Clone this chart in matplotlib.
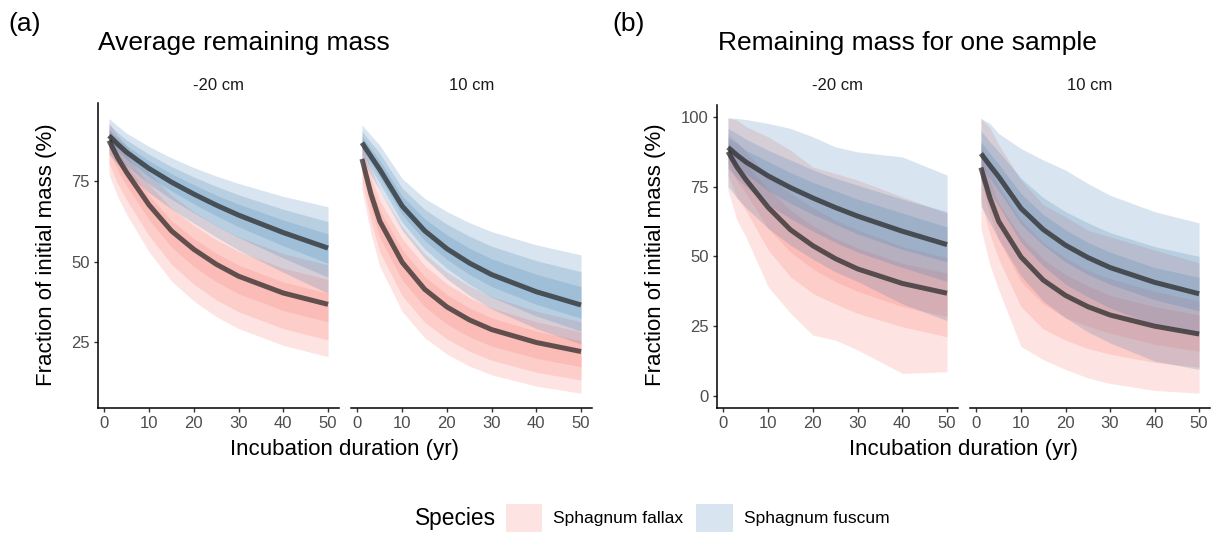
import matplotlib.pyplot as plt
from matplotlib.patches import Patch

plt.rcParams['font.family'] = ['Liberation Sans', 'DejaVu Sans']

years = [1, 3, 5, 10, 15, 20, 25, 30, 40, 50]
depths = ['-20 cm', '10 cm']
species = ['Sphagnum fallax', 'Sphagnum fuscum']

# ribbons are listed outer (95%) -> middle (80%) -> inner (50%)

# (a) average remaining mass, -20 cm
avg_m20_fallax_mean = [87.5, 82.0, 77.5, 67.5, 59.5, 53.8, 49.2, 45.5, 40.3, 36.8]
avg_m20_fallax_lo = [[77.0, 70.0, 64.5, 53.0, 44.0, 37.8, 33.0, 29.3, 24.1, 20.6],
                     [80.5, 74.0, 69.0, 58.0, 49.2, 43.0, 38.2, 34.5, 29.3, 25.8],
                     [84.2, 78.2, 73.4, 62.9, 54.5, 48.5, 43.8, 40.1, 34.9, 31.4]]
avg_m20_fallax_hi = [[93.0, 89.0, 85.7, 77.5, 70.5, 65.4, 61.2, 57.7, 52.5, 49.0],
                     [91.0, 86.5, 82.7, 73.8, 66.5, 61.2, 56.8, 53.2, 48.0, 44.5],
                     [89.2, 84.1, 79.9, 70.4, 62.7, 57.1, 52.6, 48.9, 43.7, 40.2]]
avg_m20_fuscum_mean = [89.0, 86.3, 83.8, 78.8, 74.6, 70.9, 67.5, 64.4, 59.0, 54.2]
avg_m20_fuscum_lo = [[83.2, 80.1, 77.3, 71.3, 66.3, 61.9, 57.6, 53.6, 46.7, 40.2],
                     [85.3, 82.3, 79.6, 74.0, 69.3, 65.1, 61.1, 57.5, 51.1, 45.2],
                     [87.0, 84.2, 81.6, 76.3, 71.9, 67.9, 64.2, 60.8, 54.9, 49.5]]
avg_m20_fuscum_hi = [[94.3, 91.9, 89.7, 85.6, 82.1, 79.1, 76.5, 74.2, 70.2, 67.0],
                     [92.4, 89.9, 87.6, 83.2, 79.4, 76.2, 73.3, 70.7, 66.2, 62.4],
                     [90.9, 88.3, 85.9, 81.2, 77.2, 73.8, 70.6, 67.8, 62.9, 58.6]]

# (a) average remaining mass, 10 cm
avg_10_fallax_mean = [81.8, 71.0, 62.5, 49.8, 41.5, 36.0, 32.0, 29.0, 25.0, 22.2]
avg_10_fallax_lo = [[72.2, 58.7, 48.5, 34.6, 26.5, 21.4, 17.7, 15.0, 11.5, 9.3],
                    [75.3, 62.6, 53.0, 39.5, 31.3, 26.1, 22.3, 19.5, 15.8, 13.4],
                    [78.3, 66.6, 57.5, 44.3, 36.1, 30.7, 26.8, 23.9, 20.1, 17.5]]
avg_10_fallax_hi = [[87.3, 79.0, 72.0, 60.8, 52.5, 46.8, 42.5, 39.2, 34.7, 31.4],
                    [85.4, 76.3, 68.8, 57.1, 48.8, 43.1, 38.9, 35.7, 31.4, 28.3],
                    [83.7, 73.8, 65.9, 53.7, 45.4, 39.8, 35.7, 32.6, 28.5, 25.6]]
avg_10_fuscum_mean = [86.8, 82.6, 78.5, 67.2, 59.6, 54.0, 49.6, 46.0, 40.7, 36.6]
avg_10_fuscum_lo = [[81.8, 76.8, 72.0, 59.7, 51.1, 44.7, 39.6, 35.4, 29.3, 24.5],
                    [83.5, 78.8, 74.2, 62.2, 54.0, 47.9, 43.0, 39.0, 33.2, 28.5],
                    [85.0, 80.5, 76.1, 64.5, 56.6, 50.7, 46.1, 42.3, 36.8, 32.5]]
avg_10_fuscum_hi = [[92.3, 89.1, 86.0, 75.7, 69.6, 65.5, 62.1, 59.3, 55.2, 52.1],
                    [90.4, 86.9, 83.5, 72.8, 66.2, 61.6, 57.9, 54.8, 50.3, 46.9],
                    [88.8, 85.0, 81.3, 70.3, 63.3, 58.3, 54.2, 50.9, 46.1, 42.3]]

# (b) remaining mass for one sample, -20 cm
one_m20_fallax_mean = avg_m20_fallax_mean
one_m20_fallax_lo = [[73.7, 63.0, 57.0, 39.1, 29.6, 21.8, 20.0, 16.5, 8.1, 8.7],
                     [79.0, 71.0, 66.5, 52.3, 42.7, 36.7, 33.0, 29.6, 24.8, 21.2],
                     [83.5, 77.0, 72.5, 60.0, 51.5, 45.5, 41.0, 37.5, 32.0, 28.5]]
one_m20_fallax_hi = [[99.6, 98.8, 96.5, 92.8, 88.0, 82.0, 79.7, 77.3, 71.3, 65.4],
                     [94.0, 91.0, 87.5, 79.0, 72.5, 67.5, 63.0, 59.5, 53.5, 49.5],
                     [91.0, 87.0, 83.0, 74.0, 66.5, 61.0, 56.5, 53.0, 47.5, 44.0]]
one_m20_fuscum_mean = avg_m20_fuscum_mean
one_m20_fuscum_lo = [[75.0, 71.0, 67.5, 60.0, 54.0, 49.0, 44.5, 41.0, 33.0, 27.0],
                     [81.5, 78.0, 75.0, 68.5, 63.5, 59.0, 55.0, 51.5, 46.0, 41.0],
                     [85.5, 82.0, 79.5, 73.5, 69.0, 65.0, 61.5, 58.0, 52.5, 48.0]]
one_m20_fuscum_hi = [[99.6, 99.4, 99.0, 97.6, 95.8, 92.8, 89.2, 87.4, 85.6, 79.1],
                     [95.8, 94.0, 92.0, 88.0, 84.5, 81.0, 78.0, 75.5, 70.5, 66.0],
                     [92.5, 90.5, 88.0, 84.0, 80.0, 76.5, 73.5, 70.5, 65.5, 60.5]]

# (b) remaining mass for one sample, 10 cm
one_10_fallax_mean = avg_10_fallax_mean
one_10_fallax_lo = [[60.0, 47.0, 38.0, 17.7, 13.0, 9.5, 6.5, 4.5, 2.0, 1.0],
                    [70.0, 58.0, 49.0, 32.0, 24.0, 20.0, 17.0, 15.0, 12.0, 10.3],
                    [77.0, 65.0, 56.0, 41.0, 33.0, 28.0, 25.0, 22.5, 18.5, 16.0]]
one_10_fallax_hi = [[99.4, 96.0, 90.0, 77.3, 68.5, 64.2, 59.4, 57.0, 52.3, 47.7],
                    [90.0, 82.0, 75.0, 63.0, 55.0, 49.5, 45.0, 42.0, 37.5, 34.0],
                    [86.0, 77.0, 69.0, 57.0, 49.0, 43.5, 39.5, 36.0, 32.0, 29.0]]
one_10_fuscum_mean = avg_10_fuscum_mean
one_10_fuscum_lo = [[68.0, 62.0, 56.0, 43.0, 34.0, 28.0, 23.0, 19.0, 12.5, 9.5],
                    [77.5, 72.5, 68.0, 55.0, 46.5, 40.0, 35.5, 31.5, 25.5, 21.5],
                    [82.5, 78.0, 73.5, 61.5, 54.0, 48.0, 43.5, 40.0, 34.5, 30.5]]
one_10_fuscum_hi = [[99.4, 97.6, 94.0, 88.6, 84.5, 80.9, 76.1, 71.9, 66.0, 62.0],
                    [95.0, 91.0, 87.5, 78.0, 71.0, 66.0, 62.0, 58.5, 53.5, 50.0],
                    [91.0, 87.0, 83.0, 72.5, 65.0, 59.5, 55.0, 51.5, 46.0, 42.5]]

FALLAX = '#F8766D'
FUSCUM = '#3C7BB0'
W, H = 1222, 533


def box(l, t, r, b):
    return [l / W, 1 - b / H, (r - l) / W, (b - t) / H]


def facet(ax, series, ylim, yticks, first):
    for lo, hi, mean, col in series:
        for l, h in zip(lo, hi):
            ax.fill_between(years, l, h, color=col, alpha=0.2, linewidth=0)
    for lo, hi, mean, col in series:
        ax.plot(years, mean, color='#262626', alpha=0.72, lw=3.6,
                solid_capstyle='butt', solid_joinstyle='round')
    ax.set_xlim(-1.45, 52.45)
    ax.set_ylim(*ylim)
    ax.set_xticks([0, 10, 20, 30, 40, 50])
    ax.set_yticks(yticks)
    ax.tick_params(labelsize=12, labelcolor='#4D4D4D', color='#333333',
                   length=3, width=1, pad=3)
    for s in ['top', 'right']:
        ax.spines[s].set_visible(False)
    for s in ['left', 'bottom']:
        ax.spines[s].set_linewidth(1.1)
    if not first:
        ax.spines['left'].set_visible(False)
        ax.tick_params(axis='y', left=False, labelleft=False)


fig = plt.figure(figsize=(W / 100, H / 100), dpi=100)

panels = [
    (box(98, 103, 339, 408), box(351, 103, 592, 408), (4.73, 99.1), [25, 50, 75],
     [(avg_m20_fallax_lo, avg_m20_fallax_hi, avg_m20_fallax_mean, FALLAX),
      (avg_m20_fuscum_lo, avg_m20_fuscum_hi, avg_m20_fuscum_mean, FUSCUM)],
     [(avg_10_fallax_lo, avg_10_fallax_hi, avg_10_fallax_mean, FALLAX),
      (avg_10_fuscum_lo, avg_10_fuscum_hi, avg_10_fuscum_mean, FUSCUM)]),
    (box(717, 105, 958, 408), box(970, 105, 1210, 408), (-4.3, 104.2), [0, 25, 50, 75, 100],
     [(one_m20_fallax_lo, one_m20_fallax_hi, one_m20_fallax_mean, FALLAX),
      (one_m20_fuscum_lo, one_m20_fuscum_hi, one_m20_fuscum_mean, FUSCUM)],
     [(one_10_fallax_lo, one_10_fallax_hi, one_10_fallax_mean, FALLAX),
      (one_10_fuscum_lo, one_10_fuscum_hi, one_10_fuscum_mean, FUSCUM)]),
]

for left_box, right_box, ylim, yticks, s_left, s_right in panels:
    for pos, ser, first, depth in [(left_box, s_left, True, depths[0]),
                                   (right_box, s_right, False, depths[1])]:
        ax = fig.add_axes(pos)
        facet(ax, ser, ylim, yticks, first)
        fig.text(pos[0] + pos[2] / 2, 1 - 86 / H, depth, fontsize=12,
                 ha='center', va='center', color='#1A1A1A')

# panel tags and titles
fig.text(8 / W, 1 - 31 / H, '(a)', fontsize=19, va='baseline')
fig.text(98 / W, 1 - 50 / H, 'Average remaining mass', fontsize=19, va='baseline')
fig.text(612 / W, 1 - 31 / H, '(b)', fontsize=19, va='baseline')
fig.text(718 / W, 1 - 50 / H, 'Remaining mass for one sample', fontsize=19, va='baseline')

for cx in [345, 963.5]:
    fig.text(cx / W, 1 - 450 / H, 'Incubation duration (yr)', fontsize=16,
             ha='center', va='center')
for cx in [47, 655]:
    fig.text(cx / W, 1 - 255 / H, 'Fraction of initial mass (%)', fontsize=16,
             ha='center', va='center', rotation=90)

# legend
fig.text(415 / W, 1 - 518 / H, 'Species', fontsize=16.4, va='center')
handles = [Patch(facecolor=FALLAX, alpha=0.2, linewidth=0),
           Patch(facecolor=FUSCUM, alpha=0.2, linewidth=0)]
fig.legend(handles, species, loc='center left', bbox_to_anchor=(506 / W, 1 - 518 / H),
           ncol=2, frameon=False, fontsize=12.5, handlelength=2.1, handleheight=2.1,
           handletextpad=0.62, columnspacing=0.75, borderpad=0, borderaxespad=0)

fig.savefig('out.png', dpi=100)
